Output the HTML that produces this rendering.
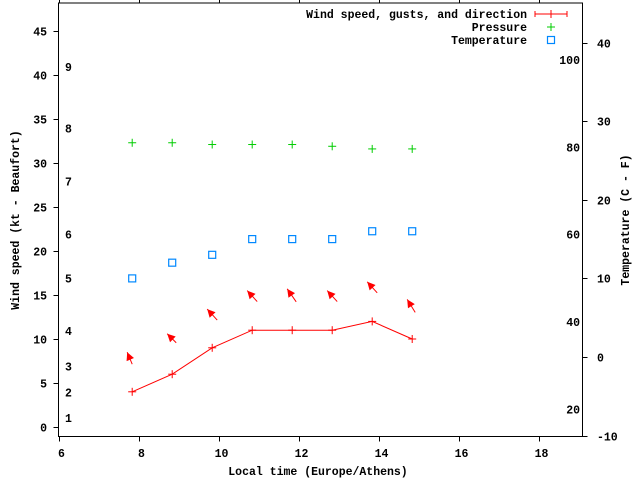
<!DOCTYPE html>
<html><head><meta charset="utf-8"><style>
html,body{margin:0;padding:0;background:#fff;}
svg text{font-family:"Liberation Mono",monospace;font-weight:bold;font-size:11.5px;fill:#000;}
</style></head><body>
<svg id="chart" width="640" height="480" xmlns="http://www.w3.org/2000/svg">
<g id="axes"></g><g id="marks"></g><g id="legend"></g>
</svg>
<script>
const times=[7.83,8.83,9.83,10.83,11.83,12.83,13.83,14.83];
const windSpeed=[4,6,9,11,11,11,12,10];
const gustSpeed=[8.5,10.6,13.4,15.5,15.7,15.5,16.5,14.5];
const gustDirDx=[5,9,10,10,9,10,10,8];
const gustDirDy=[12,9,11,11,13,11,11,13];
const pressure=[32.3,32.3,32.1,32.1,32.1,31.9,31.6,31.6];
const tempC=[10,12,13,15,15,15,16,16];
const xTicks=[6,8,10,12,14,16,18];
const yTicks=[0,5,10,15,20,25,30,35,40,45];
const cTicks=[-10,0,10,20,30,40];
const fTicks=[20,40,60,80,100];
const bftLabels=["1","2","3","4","5","6","7","8","9"];
const bftY=[1.0,3.9,6.9,10.9,16.9,21.9,27.9,33.9,40.9];

const L=58.5,R=582.5,T=3,B=436.5;
const X=v=>59+(v-6)*40;
const Y=v=>427-v*8.8;
const YC=c=>357-c*7.86;
const NS="http://www.w3.org/2000/svg";
function mk(p,tag,at,txt){const e=document.createElementNS(NS,tag);for(const k in at)e.setAttribute(k,at[k]);if(txt!==undefined)e.textContent=txt;p.appendChild(e);return e;}
const ax=document.getElementById('axes'),mg=document.getElementById('marks'),lg=document.getElementById('legend');
let e=mk(ax,'rect',{x:L,y:T,width:R-L,height:B-T,fill:'none',stroke:'#000','stroke-width':1});

xTicks.forEach(v=>{const x=Math.round(X(v))+0.5;
 mk(ax,'line',{x1:x,x2:x,y1:B,y2:B+5,stroke:'#000'});mk(ax,'line',{x1:x,x2:x,y1:T,y2:T-4,stroke:'#000'});
 const t=mk(ax,'text',{x:x+2,y:457,'text-anchor':'middle'},v);
 });
yTicks.forEach(v=>{const y=Math.round(Y(v))+0.5;
 mk(ax,'line',{x1:L-5,x2:L,y1:y,y2:y,stroke:'#000'});
 const t=mk(ax,'text',{x:47,y:y+4,'text-anchor':'end'},v);
 });
cTicks.forEach(v=>{const y=Math.round(YC(v))+0.5;
 mk(ax,'line',{x1:R,x2:R+5,y1:y,y2:y,stroke:'#000'});
 const t=mk(ax,'text',{x:597,y:y+4},v);
 });
fTicks.forEach(v=>{const y=YC((v-32)*5/9);
 const t=mk(ax,'text',{x:580,y:y+4,'text-anchor':'end'},v);
 });
bftLabels.forEach((s,i)=>{const t=mk(ax,'text',{x:65,y:Y(bftY[i])+4},s);
 });
e=mk(ax,'text',{x:318,y:475,'text-anchor':'middle'},'Local time (Europe/Athens)');

e=mk(ax,'text',{x:19,y:220,'text-anchor':'middle',transform:'rotate(-90 19 220)'},'Wind speed (kt - Beaufort)');

e=mk(ax,'text',{x:629,y:220,'text-anchor':'middle',transform:'rotate(-90 629 220)'},'Temperature (C - F)');


function plus(x,y,c,name){const g=mk(mg,'g',{stroke:c,'stroke-width':1});
 mk(g,'line',{x1:x-4,x2:x+4,y1:y,y2:y});mk(g,'line',{x1:x,x2:x,y1:y-4,y2:y+4});
 }
e=mk(mg,'polyline',{points:times.map((t,i)=>X(t)+','+Y(windSpeed[i])).join(' '),fill:'none',stroke:'#f00','stroke-width':1});

times.forEach((t,i)=>plus(X(t),Y(windSpeed[i]),'#f00','wind-speed-point'));
times.forEach((t,i)=>plus(X(t),Y(pressure[i]),'#0c0','pressure-point'));
times.forEach((t,i)=>{const r=mk(mg,'rect',{x:X(t)-3.5,y:YC(tempC[i])-3.5,width:7,height:7,fill:'none',stroke:'#08f','stroke-width':1.2});
 });
times.forEach((t,i)=>{const hx=X(t)-5,hy=Y(gustSpeed[i]);const dx=gustDirDx[i],dy=gustDirDy[i];
 const len=Math.hypot(dx,dy),ux=dx/len,uy=dy/len;
 const g=mk(mg,'g',{});
 mk(g,'line',{x1:hx,y1:hy,x2:hx+dx,y2:hy+dy,stroke:'#f00','stroke-width':1});
 const bx=hx+ux*8,by=hy+uy*8,px=-uy*4,py=ux*4;
 mk(g,'polygon',{points:`${hx},${hy} ${bx+px},${by+py} ${bx-px},${by-py}`,fill:'#f00'});});

const lgItems=[['Wind speed, gusts, and direction',14],['Pressure',27],['Temperature',40]];
lgItems.forEach((it,i)=>{const t=mk(lg,'text',{x:527,y:it[1]+4,'text-anchor':'end'},it[0]);
 });
e=mk(lg,'line',{x1:535,x2:567,y1:14,y2:14,stroke:'#f00'});
mk(lg,'line',{x1:535,x2:535,y1:11,y2:17,stroke:'#f00'});mk(lg,'line',{x1:567,x2:567,y1:11,y2:17,stroke:'#f00'});
mk(lg,'line',{x1:551,x2:551,y1:10,y2:18,stroke:'#f00'});
const pg=mk(lg,'g',{stroke:'#0c0'});
mk(pg,'line',{x1:547,x2:555,y1:27,y2:27});mk(pg,'line',{x1:551,x2:551,y1:23,y2:31});
e=mk(lg,'rect',{x:547.5,y:36.5,width:7,height:7,fill:'none',stroke:'#08f','stroke-width':1.2});

</script>
</body></html>
